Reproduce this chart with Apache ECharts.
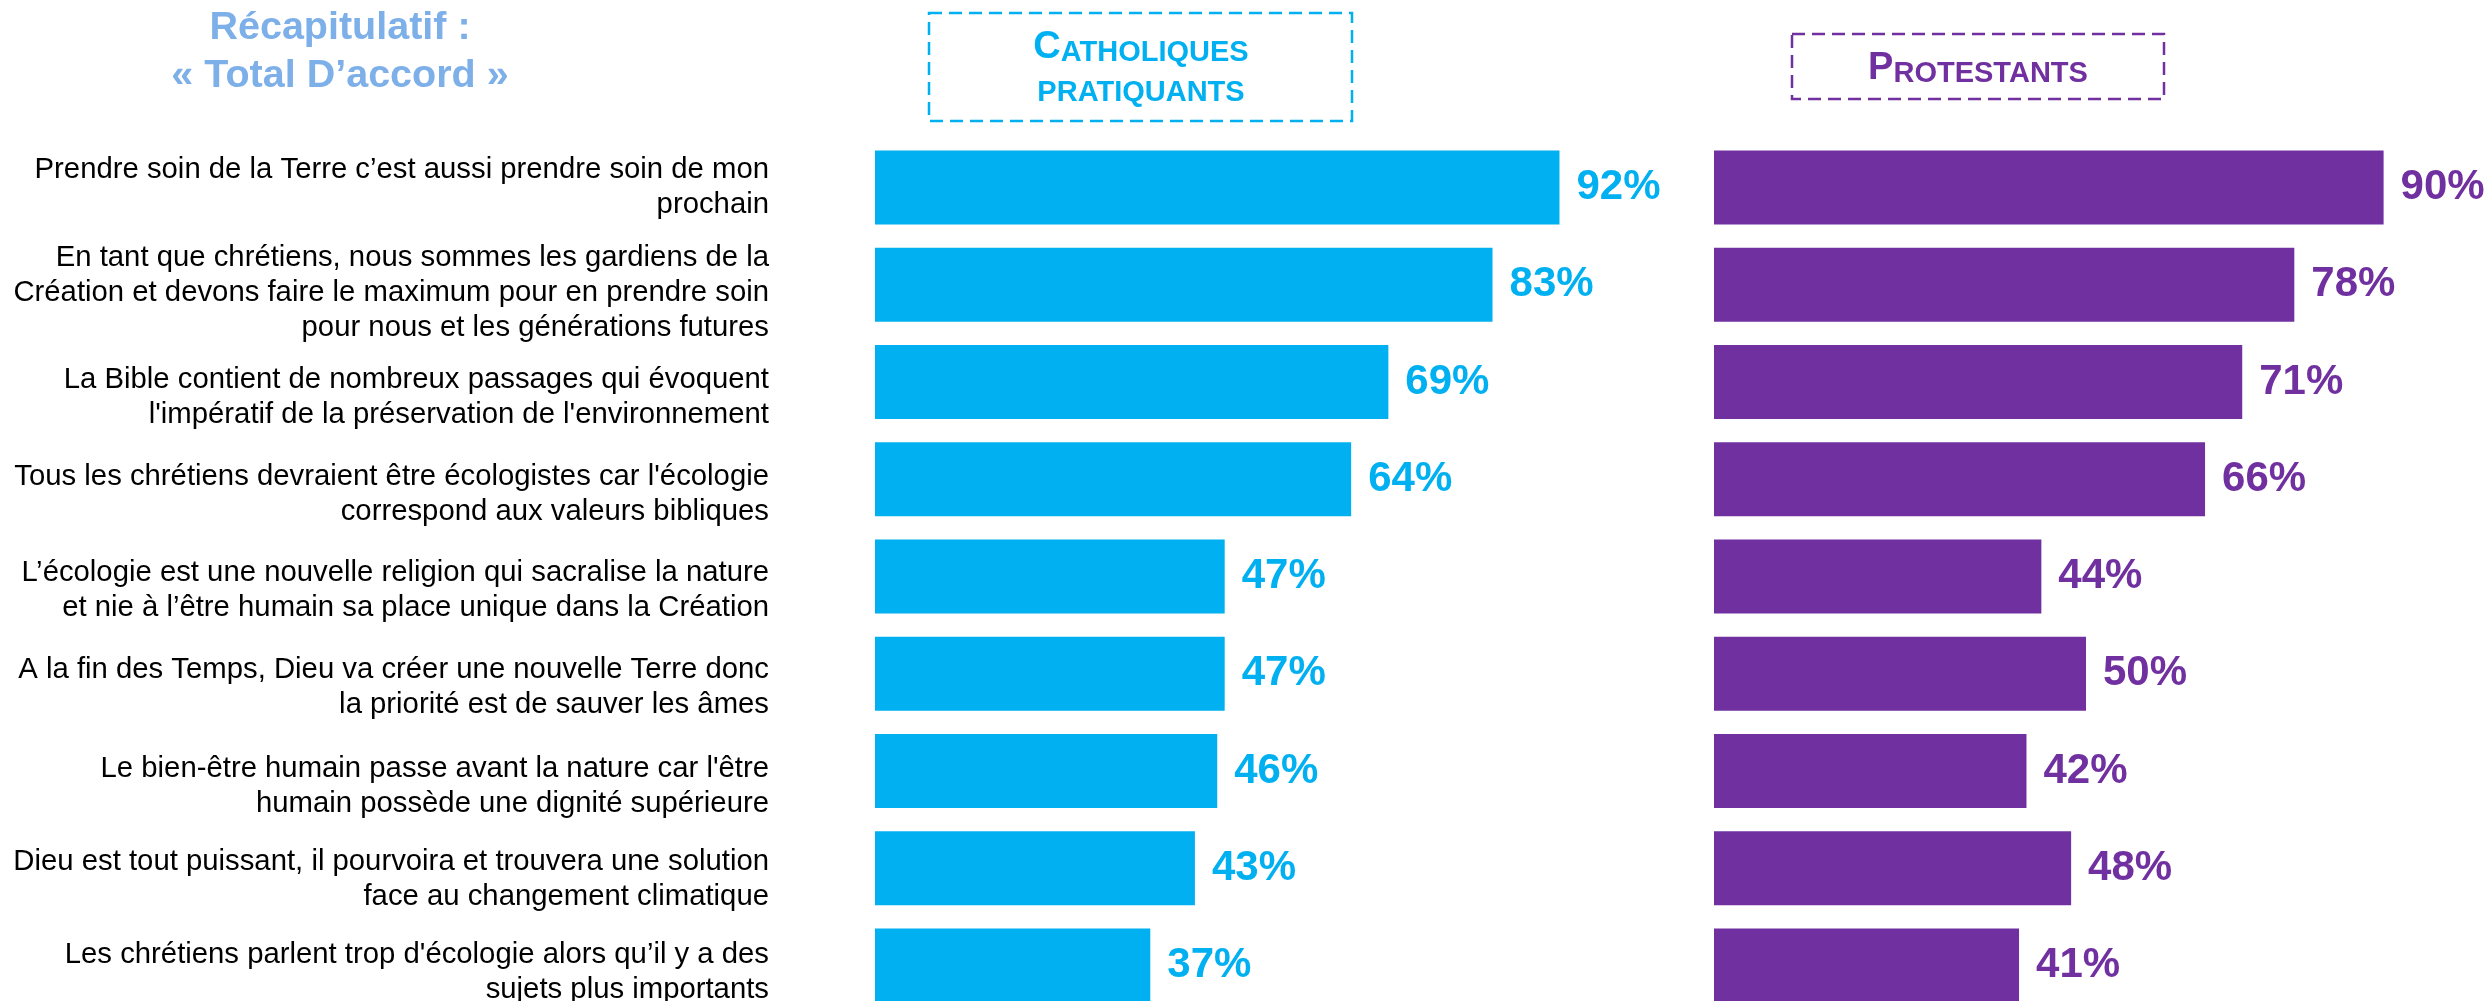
<!DOCTYPE html>
<html lang="fr">
<head>
<meta charset="utf-8">
<title>Récapitulatif : « Total D’accord »</title>
<script src="https://cdn.jsdelivr.net/npm/echarts@6/dist/echarts.min.js"></script>
<style>
  html, body { margin: 0; padding: 0; background: #ffffff; }
  #chart { width: 2491px; height: 1001px; }
</style>
</head>
<body>
<div id="chart"></div>
<script>
// Statements (one per row, top to bottom)
const statements = [
  'Prendre soin de la Terre c’est aussi prendre soin de mon\nprochain',
  'En tant que chrétiens, nous sommes les gardiens de la\nCréation et devons faire le maximum pour en prendre soin\npour nous et les générations futures',
  'La Bible contient de nombreux passages qui évoquent\nl\'impératif de la préservation de l\'environnement',
  'Tous les chrétiens devraient être écologistes car l\'écologie\ncorrespond aux valeurs bibliques',
  'L’écologie est une nouvelle religion qui sacralise la nature\net nie à l’être humain sa place unique dans la Création',
  'A la fin des Temps, Dieu va créer une nouvelle Terre donc\nla priorité est de sauver les âmes',
  'Le bien-être humain passe avant la nature car l\'être\nhumain possède une dignité supérieure',
  'Dieu est tout puissant, il pourvoira et trouvera une solution\nface au changement climatique',
  'Les chrétiens parlent trop d\'écologie alors qu’il y a des\nsujets plus importants'
];

// "Total d'accord" share, in percent
const catholiques = [92, 83, 69, 64, 47, 47, 46, 43, 37];
const protestants = [90, 78, 71, 66, 44, 50, 42, 48, 41];

// Downward nudge (px) of each statement's text block relative to its bar
const labelNudge = [0, 8, 15, 15, 14, 14, 15, 11, 7];

const CYAN = '#00B0F0';
const PURPLE = '#7030A0';
const TITLE_BLUE = '#7DAFE8';
const FONT = "'Liberation Sans', Arial, sans-serif";

const chart = echarts.init(document.getElementById('chart'), null, { renderer: 'canvas' });

const gridTop = 139;
const gridHeight = 875;

// Invisible spacer lines: a leading line of height 2*d moves a centred block down by d
const spacerRich = {};
labelNudge.forEach(function (d, i) {
  spacerRich['sp' + i] = { lineHeight: Math.max(2 * d, 1), fontSize: 1, color: 'rgba(0,0,0,0)' };
});

function valueLabel(color) {
  return {
    show: true,
    position: 'right',
    distance: 17,
    formatter: '{c}%',
    color: color,
    fontFamily: FONT,
    fontWeight: 'bold',
    fontSize: 42
  };
}

const option = {
  backgroundColor: '#ffffff',
  animation: false,
  grid: [
    { left: 875, top: gridTop, width: 744, height: gridHeight, outerBoundsMode: 'none', containLabel: false },
    { left: 1714, top: gridTop, width: 744, height: gridHeight, outerBoundsMode: 'none', containLabel: false }
  ],
  xAxis: [
    { gridIndex: 0, type: 'value', min: 0, max: 100, show: false },
    { gridIndex: 1, type: 'value', min: 0, max: 100, show: false }
  ],
  yAxis: [
    {
      gridIndex: 0, type: 'category', data: statements, inverse: true,
      axisLine: { show: false }, axisTick: { show: false }, splitLine: { show: false },
      axisLabel: {
        interval: 0,
        hideOverlap: false,
        margin: 106,
        align: 'right',
        color: '#000000',
        fontFamily: FONT,
        fontSize: 29.3,
        lineHeight: 35,
        rich: spacerRich,
        formatter: function (value, index) {
          return labelNudge[index] > 0 ? '{sp' + index + '| }\n' + value : value;
        }
      }
    },
    {
      gridIndex: 1, type: 'category', data: statements, inverse: true,
      axisLine: { show: false }, axisTick: { show: false }, splitLine: { show: false },
      axisLabel: { show: false }
    }
  ],
  series: [
    {
      name: 'Catholiques pratiquants',
      type: 'bar',
      xAxisIndex: 0, yAxisIndex: 0,
      data: catholiques,
      barWidth: 74,
      itemStyle: { color: CYAN },
      label: valueLabel(CYAN)
    },
    {
      name: 'Protestants',
      type: 'bar',
      xAxisIndex: 1, yAxisIndex: 1,
      data: protestants,
      barWidth: 74,
      itemStyle: { color: PURPLE },
      label: valueLabel(PURPLE)
    }
  ],
  graphic: [
    // Title
    {
      type: 'text',
      x: 340, y: 52,
      style: {
        text: 'Récapitulatif :\n« Total D’accord »',
        fill: TITLE_BLUE,
        font: 'bold 39.5px ' + FONT,
        lineHeight: 48,
        align: 'center',
        verticalAlign: 'middle'
      }
    },
    // Header: Catholiques pratiquants
    {
      type: 'rect',
      shape: { x: 929, y: 13, width: 423, height: 108 },
      style: { fill: 'none', stroke: CYAN, lineWidth: 2.5, lineDash: [13, 7] }
    },
    {
      type: 'text',
      x: 1141, y: 45,
      style: {
        text: '{big|C}{small|ATHOLIQUES}',
        align: 'center',
        verticalAlign: 'middle',
        rich: {
          big: { fontFamily: FONT, fontWeight: 'bold', fontSize: 38, lineHeight: 44, verticalAlign: 'bottom', fill: CYAN, color: CYAN },
          small: { fontFamily: FONT, fontWeight: 'bold', fontSize: 29, lineHeight: 38, verticalAlign: 'bottom', fill: CYAN, color: CYAN }
        }
      }
    },
    {
      type: 'text',
      x: 1141, y: 93,
      style: {
        text: 'PRATIQUANTS',
        fill: CYAN,
        font: 'bold 29px ' + FONT,
        align: 'center',
        verticalAlign: 'middle'
      }
    },
    // Header: Protestants
    {
      type: 'rect',
      shape: { x: 1792, y: 34, width: 372, height: 65 },
      style: { fill: 'none', stroke: PURPLE, lineWidth: 2.5, lineDash: [13, 7] }
    },
    {
      type: 'text',
      x: 1978, y: 66,
      style: {
        text: '{big|P}{small|ROTESTANTS}',
        align: 'center',
        verticalAlign: 'middle',
        rich: {
          big: { fontFamily: FONT, fontWeight: 'bold', fontSize: 38, lineHeight: 44, verticalAlign: 'bottom', fill: PURPLE, color: PURPLE },
          small: { fontFamily: FONT, fontWeight: 'bold', fontSize: 29, lineHeight: 38, verticalAlign: 'bottom', fill: PURPLE, color: PURPLE }
        }
      }
    }
  ]
};

chart.setOption(option);
</script>
</body>
</html>
